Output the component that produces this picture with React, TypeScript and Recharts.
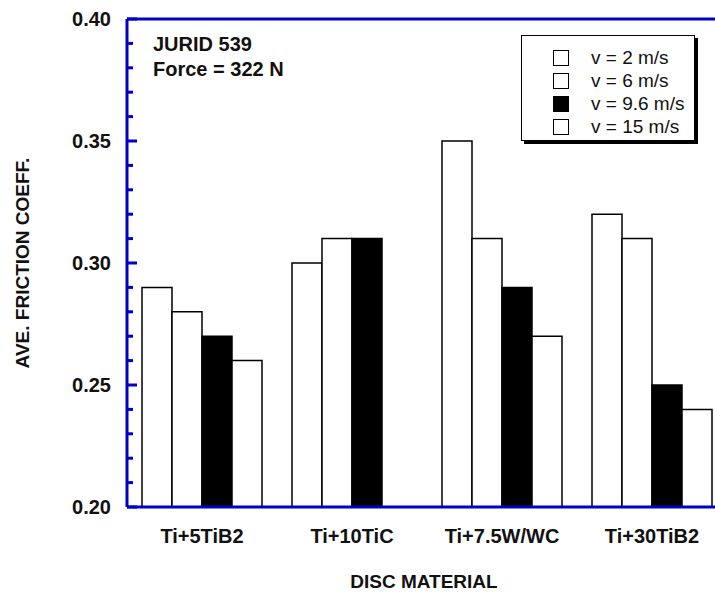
import React from 'react';
import { BarChart, Bar, XAxis, YAxis, Legend, ReferenceLine, Customized } from 'recharts';

// disc materials along the x axis
const materials = ['Ti+5TiB2', 'Ti+10TiC', 'Ti+7.5W/WC', 'Ti+30TiB2'];

// sliding speeds (legend order)
const speedNames = ['v = 2 m/s', 'v = 6 m/s', 'v = 9.6 m/s', 'v = 15 m/s'];

// average friction coefficient per sliding speed
const speed2 = [0.29, 0.30, 0.35, 0.32];
const speed6 = [0.28, 0.31, 0.31, 0.31];
const speed96 = [0.27, 0.31, 0.29, 0.25];
const speed15 = [0.26, null, 0.27, 0.24];

const yTicks = [
  0.20, 0.21, 0.22, 0.23, 0.24, 0.25, 0.26, 0.27, 0.28, 0.29, 0.30,
  0.31, 0.32, 0.33, 0.34, 0.35, 0.36, 0.37, 0.38, 0.39, 0.40,
];

const data = materials.map((m, i) => ({
  material: m,
  v2: speed2[i],
  v6: speed6[i],
  v96: speed96[i],
  v15: speed15[i],
}));

const BLUE = '#0000cc';
const FONT = '"Liberation Sans", Arial, Helvetica, sans-serif';

const YTick = ({ x, y, payload }: any) => {
  const v = payload.value;
  const major = Math.round(v * 100) % 5 === 0;
  return (
    <g>
      <line x1={x} x2={x + (major ? 10 : 6)} y1={y} y2={y} stroke={BLUE} strokeWidth={3} />
      {major && (
        <text x={x - 16} y={y} dy="0.35em" textAnchor="end" fontFamily={FONT} fontWeight="bold" fontSize={20} fill="#111">
          {v.toFixed(2)}
        </text>
      )}
    </g>
  );
};

const XTick = ({ x, y, payload }: any) => (
  <text x={x} y={y + 29} dy="0.35em" textAnchor="middle" fontFamily={FONT} fontWeight="bold" fontSize={20} fill="#111">
    {payload.value}
  </text>
);

const LegendBox = ({ payload }: any) => {
  const items = [...(payload || [])].sort(
    (a: any, b: any) => speedNames.indexOf(a.value) - speedNames.indexOf(b.value)
  );
  return (
    <div
      style={{
        width: 174,
        height: 106,
        border: '1.5px solid #000',
        boxShadow: '3px 3px 0 #000',
        background: '#fff',
        paddingTop: 10,
        boxSizing: 'border-box',
      }}
    >
      {items.map((entry: any) => (
        <div key={entry.value} style={{ display: 'flex', alignItems: 'center', height: 23, paddingLeft: 31 }}>
          <span
            style={{
              width: 16,
              height: 16,
              boxSizing: 'border-box',
              border: '1.5px solid #000',
              background: entry.color,
              display: 'inline-block',
              flexShrink: 0,
            }}
          />
          <span style={{ marginLeft: 22, fontFamily: FONT, fontSize: 19, color: '#111', whiteSpace: 'nowrap' }}>
            {entry.value}
          </span>
        </div>
      ))}
    </div>
  );
};

const Notes = () => (
  <g fontFamily={FONT} fontWeight="bold" fontSize={20} fill="#111">
    <text x={153} y={44} dy="0.35em">JURID 539</text>
    <text x={153} y={69} dy="0.35em">Force = 322 N</text>
    <text x={424} y={581} dy="0.35em" textAnchor="middle" fontSize={19}>DISC MATERIAL</text>
    <text x={22} y={263} dy="0.35em" textAnchor="middle" fontSize={19} transform="rotate(-90 22 263)">
      AVE. FRICTION COEFF.
    </text>
  </g>
);

export default function App() {
  return (
    <div style={{ position: 'fixed', left: 0, top: 0, width: 715, height: 592, overflow: 'hidden', background: '#fff' }}>
      <BarChart
        width={760}
        height={592}
        data={data}
        margin={{ top: 19, right: 33, bottom: 0, left: 0 }}
        barCategoryGap="10%"
        barGap={0}
      >
        <XAxis
          dataKey="material"
          height={85}
          axisLine={{ stroke: BLUE, strokeWidth: 3 }}
          tickLine={false}
          tickSize={0}
          tickMargin={0}
          tick={<XTick />}
          interval={0}
        />
        <YAxis
          width={127}
          domain={[0.2, 0.4]}
          ticks={yTicks}
          interval={0}
          axisLine={{ stroke: BLUE, strokeWidth: 3 }}
          tickLine={false}
          tickSize={0}
          tickMargin={0}
          tick={<YTick />}
        />
        <ReferenceLine y={0.4} stroke={BLUE} strokeWidth={3} />
        <Bar dataKey="v2" name={speedNames[0]} fill="#fff" stroke="#000" strokeWidth={1.5} isAnimationActive={false} />
        <Bar dataKey="v6" name={speedNames[1]} fill="#fff" stroke="#000" strokeWidth={1.5} isAnimationActive={false} />
        <Bar dataKey="v96" name={speedNames[2]} fill="#000" stroke="#000" strokeWidth={1.5} isAnimationActive={false} />
        <Bar dataKey="v15" name={speedNames[3]} fill="#fff" stroke="#000" strokeWidth={1.5} isAnimationActive={false} />
        <Legend
          layout="vertical"
          align="center"
          verticalAlign="middle"
          content={<LegendBox />}
          wrapperStyle={{ left: 521, top: 35, width: 180, height: 110 }}
        />
        <Customized component={<Notes />} />
      </BarChart>
    </div>
  );
}
